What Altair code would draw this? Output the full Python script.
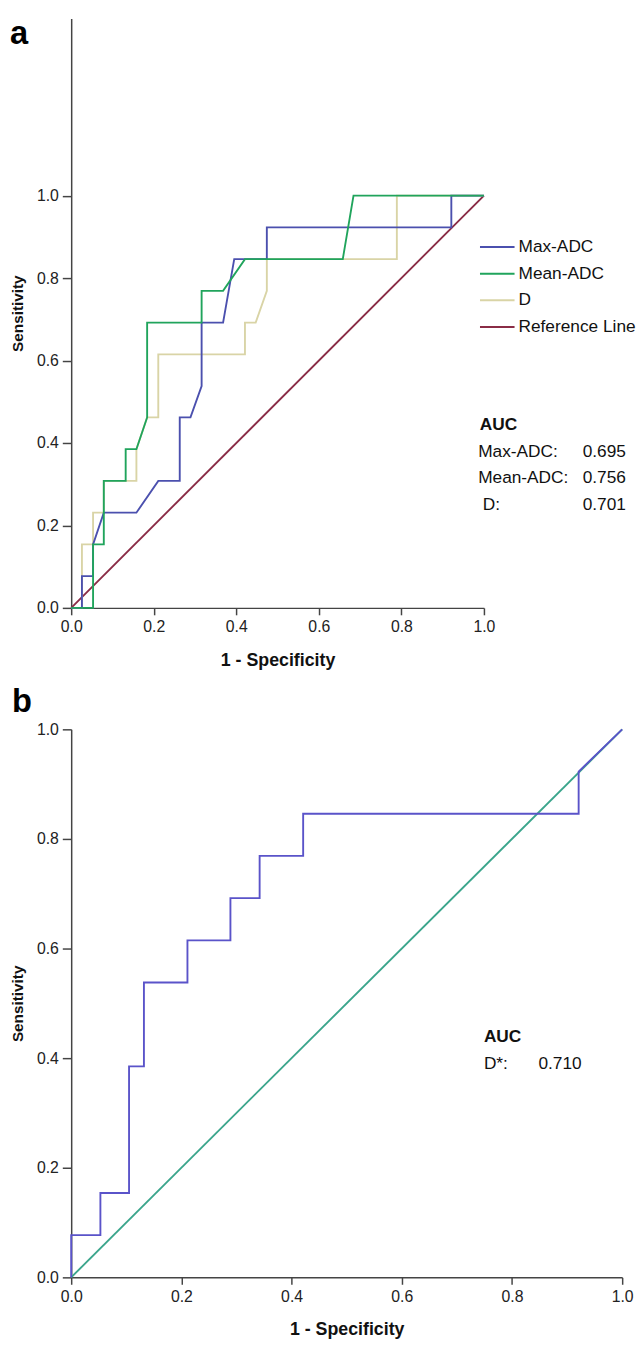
import altair as alt
import pandas as pd

FONT = "Liberation Sans"

# ---------------- panel a data (1 - specificity, sensitivity) ----------------
series_names = ["Max-ADC", "Mean-ADC", "D", "Reference Line"]
series_colors = ["#4b50ae", "#20a45c", "#d9d4a6", "#8a2c46"]

max_x = [0, 0.026, 0.026, 0.053, 0.053, 0.079, 0.158, 0.211, 0.263, 0.263,
         0.289, 0.316, 0.316, 0.368, 0.395, 0.474, 0.474, 0.921, 0.921, 1.0]
max_y = [0, 0, 0.077, 0.077, 0.154, 0.231, 0.231, 0.308, 0.308, 0.462,
         0.462, 0.538, 0.692, 0.692, 0.846, 0.846, 0.923, 0.923, 1.0, 1.0]

mean_x = [0, 0.053, 0.053, 0.079, 0.079, 0.132, 0.132, 0.158, 0.184, 0.184,
          0.316, 0.316, 0.368, 0.421, 0.658, 0.684, 1.0]
mean_y = [0, 0, 0.154, 0.154, 0.308, 0.308, 0.385, 0.385, 0.462, 0.692,
          0.692, 0.769, 0.769, 0.846, 0.846, 1.0, 1.0]

d_x = [0, 0.026, 0.026, 0.053, 0.053, 0.079, 0.079, 0.158, 0.158, 0.184,
       0.211, 0.211, 0.421, 0.421, 0.447, 0.474, 0.474, 0.789, 0.789, 1.0]
d_y = [0, 0, 0.154, 0.154, 0.231, 0.231, 0.308, 0.308, 0.385, 0.462,
       0.462, 0.615, 0.615, 0.692, 0.692, 0.769, 0.846, 0.846, 1.0, 1.0]

ref_x = [0, 1.0]
ref_y = [0, 1.0]

auc_a_labels = ["Max-ADC:", "Mean-ADC:", "D:"]
auc_a_values = ["0.695", "0.756", "0.701"]

# ---------------- panel b data ----------------
dstar_x = [0, 0, 0.053, 0.053, 0.105, 0.105, 0.132, 0.132, 0.211, 0.211,
           0.289, 0.289, 0.342, 0.342, 0.421, 0.421, 0.921, 0.921, 1.0]
dstar_y = [0, 0.077, 0.077, 0.154, 0.154, 0.385, 0.385, 0.538, 0.538, 0.615,
           0.615, 0.692, 0.692, 0.769, 0.769, 0.846, 0.846, 0.923, 1.0]

auc_b_labels = ["D*:"]
auc_b_values = ["0.710"]

ticks = [0.0, 0.2, 0.4, 0.6, 0.8, 1.0]

# ---------------- tables ----------------
rows = []
for name, xs, ys in [("Reference Line", ref_x, ref_y), ("D", d_x, d_y),
                     ("Max-ADC", max_x, max_y), ("Mean-ADC", mean_x, mean_y)]:
    for i, (xv, yv) in enumerate(zip(xs, ys)):
        rows.append({"x": xv, "y": yv, "series": name, "idx": i})
df_a = pd.DataFrame(rows)

df_b_curve = pd.DataFrame({"x": dstar_x, "y": dstar_y, "idx": range(len(dstar_x))})
df_b_ref = pd.DataFrame({"x": ref_x, "y": ref_y, "idx": range(len(ref_x))})

TXT = 17.5


def x_axis():
    return alt.Axis(values=ticks, format=".1f", title="1 - Specificity", grid=False,
                    tickSize=7, tickWidth=1.5, domainWidth=1.5,
                    domainColor="#444444", tickColor="#444444",
                    labelColor="#222222", labelFont=FONT, labelFontSize=16,
                    labelPadding=4, titleFont=FONT, titleFontSize=18,
                    titleFontWeight="bold", titleColor="#111111", titlePadding=17,
                    labelFlush=False)


def y_axis():
    return alt.Axis(values=ticks, format=".1f", title="Sensitivity", grid=False,
                    tickSize=9, tickWidth=1.5, domainWidth=1.5,
                    domainColor="#444444", tickColor="#444444",
                    labelColor="#222222", labelFont=FONT, labelFontSize=16,
                    labelPadding=4, titleFont=FONT, titleFontSize=15.5,
                    titleFontWeight="bold", titleColor="#111111", titlePadding=11,
                    labelFlush=False)


def text_layer(df, field, xenc, align, bold=False):
    return alt.Chart(df).mark_text(align=align, baseline="middle", font=FONT,
                                   fontSize=TXT, color="#111111",
                                   fontWeight="bold" if bold else "normal").encode(
        x=xenc, y="y:Q", text=f"{field}:N")


# ---------------- panel a ----------------
xa = alt.X("x:Q", scale=alt.Scale(domain=[0, 1], nice=False, zero=False), axis=x_axis())
ya = alt.Y("y:Q", scale=alt.Scale(domain=[0, 1.43], nice=False, zero=False), axis=y_axis())

lines_a = alt.Chart(df_a).mark_line(strokeWidth=1.9, interpolate="linear").encode(
    x=xa, y=ya,
    color=alt.Color("series:N",
                    scale=alt.Scale(domain=series_names, range=series_colors),
                    legend=alt.Legend(title=None, orient="none", legendX=413, legendY=213,
                                      symbolType="stroke", symbolSize=1225,
                                      symbolStrokeWidth=2, labelFont=FONT,
                                      labelFontSize=TXT, labelColor="#111111",
                                      labelOffset=3, rowPadding=-4, padding=0,
                                      labelLimit=300)),
    order="idx:Q",
    detail="series:N",
)

auc_a_head = pd.DataFrame({"lab": ["AUC"], "x": [0.990], "y": [0.444]})
auc_a_rows = pd.DataFrame({
    "lab": auc_a_labels,
    "val": auc_a_values,
    "x": [0.986, 0.986, 0.997],
    "y": [0.377, 0.314, 0.250],
})
auc_a_h = text_layer(auc_a_head, "lab", "x:Q", "left", bold=True)
auc_a_l = text_layer(auc_a_rows, "lab", "x:Q", "left")
auc_a_v = text_layer(auc_a_rows, "val", alt.datum(1.344), "right")

tag_a = alt.Chart(pd.DataFrame({"t": ["a"], "x": [-0.148], "y": [1.367]})).mark_text(
    align="left", baseline="alphabetic", font=FONT, fontSize=33, fontWeight="bold",
    color="#000000").encode(x="x:Q", y="y:Q", text="t:N")

panel_a = alt.layer(lines_a, auc_a_h, auc_a_l, auc_a_v, tag_a).properties(width=418, height=597)

# ---------------- panel b ----------------
xb = alt.X("x:Q", scale=alt.Scale(domain=[0, 1], nice=False, zero=False), axis=x_axis())
yb = alt.Y("y:Q", scale=alt.Scale(domain=[0, 1], nice=False, zero=False), axis=y_axis())

ref_b = alt.Chart(df_b_ref).mark_line(strokeWidth=1.9, color="#3ba58c").encode(
    x=xb, y=yb, order="idx:Q")
curve_b = alt.Chart(df_b_curve).mark_line(strokeWidth=1.9, color="#5a53c9").encode(
    x=xb, y=yb, order="idx:Q")

auc_b_head = pd.DataFrame({"lab": ["AUC"], "x": [0.749], "y": [0.438]})
auc_b_rows = pd.DataFrame({"lab": auc_b_labels, "val": auc_b_values,
                           "x": [0.749], "y": [0.389]})
auc_b_h = text_layer(auc_b_head, "lab", "x:Q", "left", bold=True)
auc_b_l = text_layer(auc_b_rows, "lab", "x:Q", "left")
auc_b_v = text_layer(auc_b_rows, "val", alt.datum(0.848), "left")

tag_b = alt.Chart(pd.DataFrame({"t": ["b"], "x": [-0.1075], "y": [1.032]})).mark_text(
    align="left", baseline="alphabetic", font=FONT, fontSize=33, fontWeight="bold",
    color="#000000").encode(x="x:Q", y="y:Q", text="t:N")

panel_b = alt.layer(ref_b, curve_b, auc_b_h, auc_b_l, auc_b_v, tag_b).properties(
    width=558, height=555)

chart = alt.vconcat(panel_a, panel_b, spacing=17).properties(
    padding={"left": 2, "top": 2, "right": 0, "bottom": 0},
    background="white",
).configure_view(strokeWidth=0)

chart.save("out.html", embed_options={"renderer": "svg", "actions": False})
